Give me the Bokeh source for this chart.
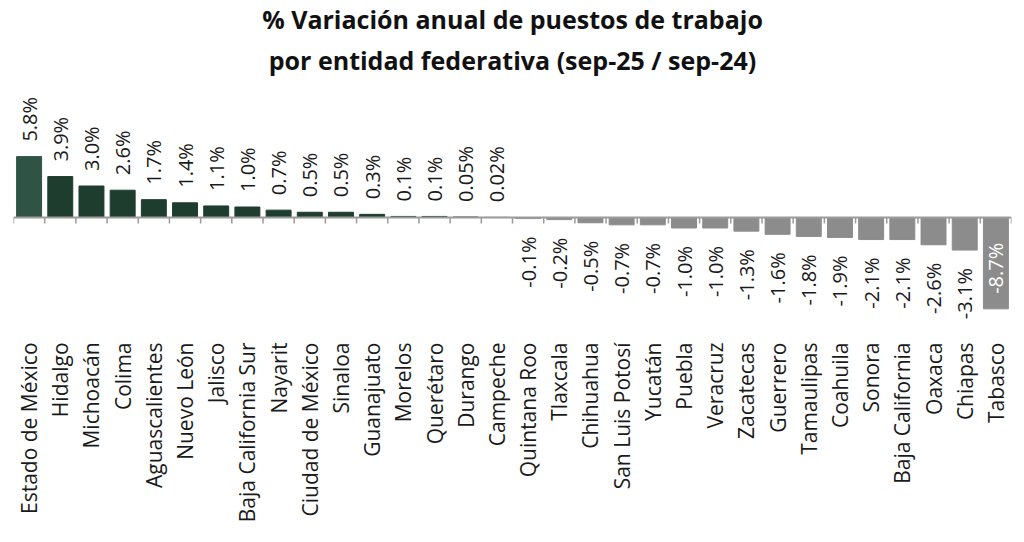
import numpy as np
from math import pi
from bokeh.plotting import figure
from bokeh.models import (ColumnDataSource, Range1d, LinearAxis, FixedTicker, Title, Span)
from bokeh.core.properties import value
from bokeh.embed import file_html
from bokeh.resources import INLINE

states = ["Estado de México", "Hidalgo", "Michoacán", "Colima", "Aguascalientes",
          "Nuevo León", "Jalisco", "Baja California Sur", "Nayarit", "Ciudad de México",
          "Sinaloa", "Guanajuato", "Morelos", "Querétaro", "Durango", "Campeche",
          "Quintana Roo", "Tlaxcala", "Chihuahua", "San Luis Potosí", "Yucatán",
          "Puebla", "Veracruz", "Zacatecas", "Guerrero", "Tamaulipas", "Coahuila",
          "Sonora", "Baja California", "Oaxaca", "Chiapas", "Tabasco"]
variation = [5.8, 3.9, 3.0, 2.6, 1.7, 1.4, 1.1, 1.0, 0.7, 0.5, 0.5, 0.3, 0.1, 0.1,
             0.05, 0.02, -0.1, -0.2, -0.5, -0.7, -0.7, -1.0, -1.0, -1.3, -1.6, -1.8,
             -1.9, -2.1, -2.1, -2.6, -3.1, -8.7]
value_labels = ["5.8%", "3.9%", "3.0%", "2.6%", "1.7%", "1.4%", "1.1%", "1.0%", "0.7%",
                "0.5%", "0.5%", "0.3%", "0.1%", "0.1%", "0.05%", "0.02%", "-0.1%",
                "-0.2%", "-0.5%", "-0.7%", "-0.7%", "-1.0%", "-1.0%", "-1.3%", "-1.6%",
                "-1.8%", "-1.9%", "-2.1%", "-2.1%", "-2.6%", "-3.1%", "-8.7%"]
title_line1 = "% Variación anual de puestos de trabajo"
title_line2 = "por entidad federativa (sep-25 / sep-24)"

FONT = "Open Sans"
n = len(states)
xs = list(np.arange(n) + 0.5)
bounds = list(range(n + 1))

def bar_color(i, v):
    if v >= 0.05:
        return "#2f5446" if i == 0 else "#1f3d2f"
    if v >= 0:
        return "#a3a3a3"
    return "#8c8c8c"

colors = [bar_color(i, v) for i, v in enumerate(variation)]
src = ColumnDataSource(dict(x=xs, top=variation, color=colors, label=value_labels))

pos = [i for i, v in enumerate(variation) if v >= 0]
neg = [i for i, v in enumerate(variation) if -5 < v < 0]
deep = [i for i, v in enumerate(variation) if v <= -5]

def sub(idx):
    return ColumnDataSource(dict(x=[xs[i] for i in idx],
                                 y=[variation[i] for i in idx],
                                 label=[value_labels[i] for i in idx]))

W, H = 1024, 542
top_border, bottom_border = 85, 212
zero_px = 217  # zero line position within figure
px_per_unit = 10.5
y_end = (zero_px - top_border) / px_per_unit
y_start = -((H - bottom_border) - zero_px) / px_per_unit

p = figure(width=W, height=H, output_backend="svg", toolbar_location=None,
           x_range=Range1d(0, n), y_range=Range1d(y_start, y_end),
           min_border_left=13, min_border_right=13, min_border_top=top_border,
           min_border_bottom=bottom_border, x_axis_type=None, y_axis_type=None)
p.outline_line_color = None
p.xgrid.visible = False
p.ygrid.visible = False
p.background_fill_color = "white"
p.border_fill_color = "white"

p.vbar(x="x", top="top", bottom=0, width=0.8, color="color", source=src)

# zero line and tick marks at category boundaries
axis_gray = "#9b9b9b"
p.add_layout(Span(location=0, dimension="width", line_color=axis_gray, line_width=2))
tick_len = 6 / px_per_unit
p.segment(x0=bounds, x1=bounds, y0=[0] * len(bounds), y1=[-tick_len] * len(bounds),
          line_color=axis_gray, line_width=1.5)

common = dict(text_font=value(FONT), text_font_size="20px", angle=pi / 2,
              text_baseline="middle")
p.text(x="x", y="y", text="label", source=sub(pos), text_align="left",
       y_offset=-15, text_color="#1a1a1a", **common)
p.text(x="x", y="y", text="label", source=sub(neg), text_align="right",
       y_offset=18, text_color="#1a1a1a", **common)
p.text(x="x", y="y", text="label", source=sub(deep), text_align="left",
       y_offset=-15, text_color="white", **common)

# category label axis
cat_axis = LinearAxis(ticker=FixedTicker(ticks=xs),
                      major_label_overrides={x: s for x, s in zip(xs, states)},
                      major_label_orientation=pi / 2,
                      axis_line_color=None, major_tick_line_color=None,
                      minor_tick_line_color=None, major_label_standoff=6,
                      major_label_text_font=FONT, major_label_text_font_size="21px",
                      major_label_text_color="#1a1a1a")
p.add_layout(cat_axis, "below")

t2 = Title(text=title_line2, align="center", text_font=FONT, text_font_size="25px",
           text_font_style="bold", text_color="#111111", standoff=18)
t1 = Title(text=title_line1, align="center", text_font=FONT, text_font_size="25px",
           text_font_style="bold", text_color="#111111", standoff=-8)
p.add_layout(t2, "above")
p.add_layout(t1, "above")

open("out.html", "w").write(file_html(p, INLINE))
